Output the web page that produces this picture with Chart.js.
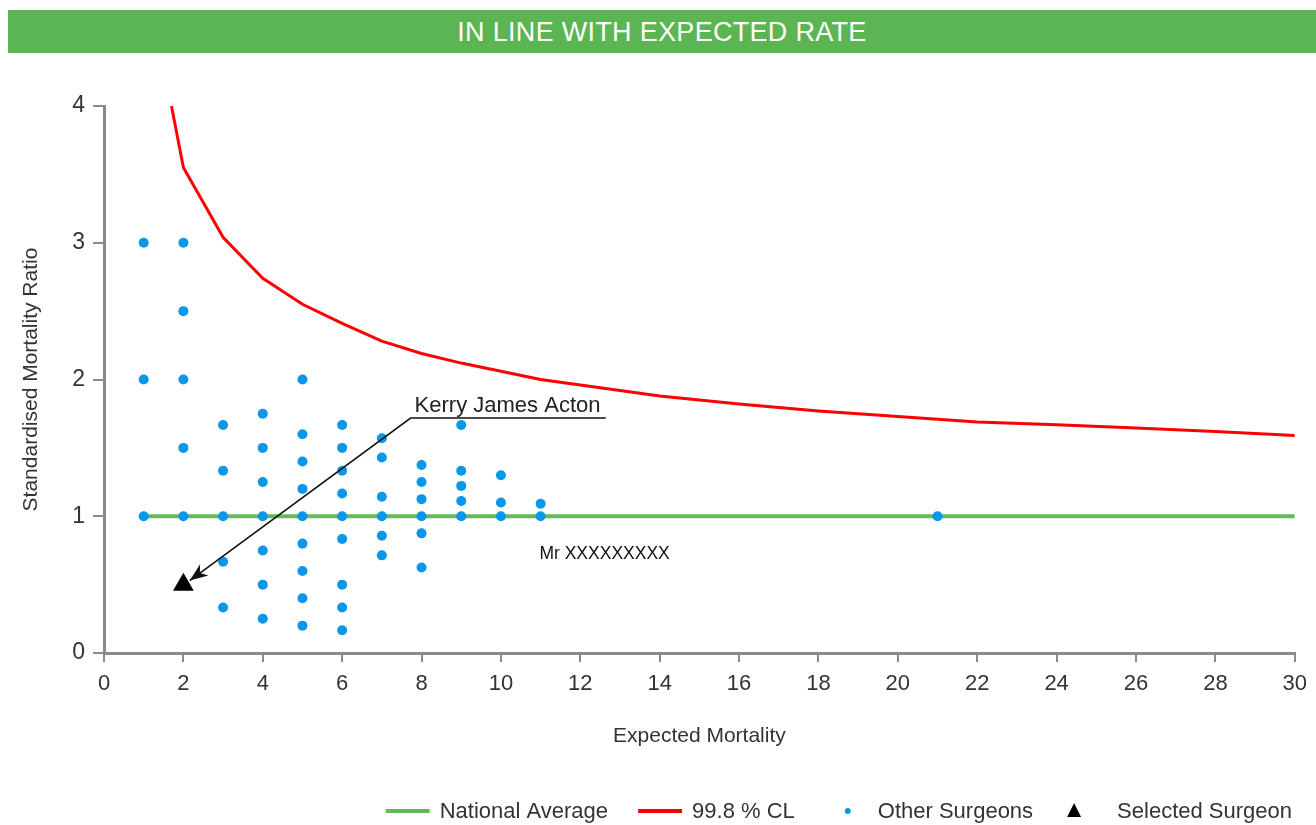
<!DOCTYPE html>
<html><head><meta charset="utf-8">
<script src="https://cdn.jsdelivr.net/npm/chart.js@4"></script>
<style>
html,body{margin:0;padding:0;background:#fff;width:1316px;height:825px;overflow:hidden}
#hdr{position:absolute;left:8px;top:10px;width:1308px;height:43px;background:#5bb553;color:#fff;font:27px "Liberation Sans",Arial,sans-serif;text-align:center;line-height:44px;z-index:2;letter-spacing:0.3px}
#wrap{position:absolute;left:0;top:0;width:1316px;height:825px}
</style></head><body>
<div id="hdr">IN LINE WITH EXPECTED RATE</div>
<div id="wrap"><canvas id="c" width="1316" height="825"></canvas></div>
<script>
// ---- data ----
const xTickStep = 2;
const xMin = 0, xMax = 30;
const yMin = 0, yMax = 4;

const nationalX = [1, 30];
const nationalY = [1, 1];

const clX = [1.7, 2, 3, 4, 5, 6, 7, 8, 9, 10, 11, 12, 13, 14, 16, 18, 20, 22, 24, 26, 28, 30];
const clY = [4.0, 3.55, 3.04, 2.74, 2.55, 2.41, 2.28, 2.19, 2.12, 2.06, 2.00, 1.96, 1.92, 1.88, 1.82, 1.77, 1.73, 1.69, 1.67, 1.645, 1.62, 1.59];

const otherX = [
  1,1,1,
  2,2,2,2,2,2,
  3,3,3,3,3,
  4,4,4,4,4,4,4,
  5,5,5,5,5,5,5,5,5,
  6,6,6,6,6,6,6,6,6,
  7,7,7,7,7,7,
  8,8,8,8,8,8,
  9,9,9,9,9,
  10,10,10,
  11,11,
  21
];
const otherY = [
  3,2,1,
  3,2.5,2,1.5,1,0.5,
  1.667,1.333,1,0.667,0.333,
  1.75,1.5,1.25,1,0.75,0.5,0.25,
  2,1.6,1.4,1.2,1,0.8,0.6,0.4,0.2,
  1.667,1.5,1.333,1.167,1,0.833,0.5,0.333,0.167,
  1.571,1.429,1.143,1,0.857,0.714,
  1.375,1.25,1.125,1,0.875,0.625,
  1.667,1.333,1.222,1.111,1,
  1.3,1.1,1,
  1.091,1,
  1
];

const selectedX = [2];
const selectedY = [0.5];

const seriesLabels = ['National Average', '99.8 % CL', 'Other Surgeons', 'Selected Surgeon'];
const xTitle = 'Expected Mortality';
const yTitle = 'Standardised Mortality Ratio';

const annName = 'Kerry James Acton';
const annElbow = {x: 7.725, y: 1.718};
const annLineEndX = 12.64;
const annTip = {x: 2.16, y: 0.53};
const noteText = 'Mr XXXXXXXXX';
const notePos = {x: 10.97, y: 0.72};

// ---- styles ----
const FONT = '"Liberation Sans", Arial, sans-serif';
const GREEN = '#64b958';
const RED = '#ff0000';
const BLUE = '#0a97ea';
const AXIS = '#8a8a8a';
const TXT = '#333333';

const zip = (xs, ys) => xs.map((x, i) => ({x, y: ys[i]}));

const annotationPlugin = {
  id: 'ann',
  afterDatasetsDraw(chart) {
    const ctx = chart.ctx, xs = chart.scales.x, ys = chart.scales.y;
    const ex = xs.getPixelForValue(annElbow.x), ey = ys.getPixelForValue(annElbow.y);
    const endX = xs.getPixelForValue(annLineEndX);
    const tx = xs.getPixelForValue(annTip.x), ty = ys.getPixelForValue(annTip.y);
    ctx.save();
    ctx.strokeStyle = '#111'; ctx.lineWidth = 1.6;
    ctx.beginPath(); ctx.moveTo(endX, ey); ctx.lineTo(ex, ey); ctx.lineTo(tx, ty); ctx.stroke();
    // arrow head
    const ang = Math.atan2(ty - ey, tx - ex);
    const L = 18, W = 7;
    ctx.fillStyle = '#111';
    ctx.beginPath();
    ctx.moveTo(tx, ty);
    ctx.lineTo(tx - L*Math.cos(ang) + W*Math.sin(ang), ty - L*Math.sin(ang) - W*Math.cos(ang));
    ctx.lineTo(tx - 0.7*L*Math.cos(ang), ty - 0.7*L*Math.sin(ang));
    ctx.lineTo(tx - L*Math.cos(ang) - W*Math.sin(ang), ty - L*Math.sin(ang) + W*Math.cos(ang));
    ctx.closePath(); ctx.fill();
    // name label
    ctx.font = '22px ' + FONT; ctx.fillStyle = '#222';
    ctx.textAlign = 'left'; ctx.textBaseline = 'alphabetic';
    ctx.fillText(annName, ex + 4, ey - 6);
    // note
    ctx.font = '17.5px ' + FONT; ctx.fillStyle = '#111';
    ctx.textBaseline = 'middle';
    ctx.fillText(noteText, xs.getPixelForValue(notePos.x), ys.getPixelForValue(notePos.y));
    ctx.restore();
  }
};

const legendPlugin = {
  id: 'customLegend',
  afterDraw(chart) {
    const ctx = chart.ctx;
    const ds = chart.data.datasets;
    const kinds = ['line', 'line', 'dot', 'tri'];
    const lead = {line: 54, dot: 30, tri: 43};
    const gapBefore = {line: 30, dot: 53, tri: 41};
    ctx.save();
    ctx.font = '22px ' + FONT;
    const items = seriesLabels.map((label, i) => ({label, kind: kinds[i], w: ctx.measureText(label).width, ds: ds.find(d => d.label === label)}));
    let total = 0;
    items.forEach((it, i) => { if (i) total += gapBefore[it.kind]; total += lead[it.kind] + it.w; });
    let x = 1292 - total;
    const y = 811;
    items.forEach((it, i) => {
      if (i) x += gapBefore[it.kind];
      if (it.kind === 'line') {
        ctx.strokeStyle = it.ds.borderColor; ctx.lineWidth = 4;
        ctx.beginPath(); ctx.moveTo(x, y); ctx.lineTo(x + 44, y); ctx.stroke();
      } else if (it.kind === 'dot') {
        ctx.fillStyle = it.ds.backgroundColor;
        ctx.beginPath(); ctx.arc(x, y, 3, 0, Math.PI*2); ctx.fill();
      } else {
        ctx.fillStyle = it.ds.backgroundColor;
        ctx.beginPath(); ctx.moveTo(x, y - 8); ctx.lineTo(x + 7, y + 6); ctx.lineTo(x - 7, y + 6); ctx.closePath(); ctx.fill();
      }
      x += lead[it.kind];
      ctx.fillStyle = TXT; ctx.textAlign = 'left'; ctx.textBaseline = 'middle';
      ctx.fillText(it.label, x, y + 1);
      x += it.w;
    });
    ctx.restore();
  }
};

new Chart(document.getElementById('c'), {
  type: 'scatter',
  data: {
    datasets: [
      {label: seriesLabels[3], data: zip(selectedX, selectedY), backgroundColor: '#000', borderColor: '#000',
       pointStyle: 'triangle', pointRadius: 12, pointBorderWidth: 0, showLine: false, order: 0},
      {label: seriesLabels[2], data: zip(otherX, otherY), backgroundColor: BLUE, borderColor: BLUE,
       pointStyle: 'circle', pointRadius: 5, pointBorderWidth: 0, showLine: false, order: 1},
      {label: seriesLabels[0], data: zip(nationalX, nationalY), borderColor: GREEN, backgroundColor: GREEN,
       showLine: true, borderWidth: 4, pointRadius: 0, order: 2},
      {label: seriesLabels[1], data: zip(clX, clY), borderColor: RED, backgroundColor: RED,
       showLine: true, borderWidth: 3, pointRadius: 0, tension: 0, order: 3}
    ]
  },
  options: {
    responsive: false,
    animation: false,
    events: [],
    layout: {padding: {top: 106, left: 0, right: 16, bottom: 0}},
    plugins: {legend: {display: false}, tooltip: {enabled: false}, title: {display: false}},
    scales: {
      x: {
        type: 'linear', min: xMin, max: xMax,
        ticks: {stepSize: xTickStep, color: TXT, font: {family: FONT, size: 22}, padding: 9, maxRotation: 0},
        grid: {drawOnChartArea: false, drawTicks: true, tickLength: 9, color: AXIS, lineWidth: 2},
        border: {display: true, color: AXIS, width: 3},
        title: {display: true, text: xTitle, color: TXT, font: {family: FONT, size: 21}, padding: {top: 0, bottom: 76}},
        afterFit(s) { s.height = 172; }
      },
      y: {
        type: 'linear', min: yMin, max: yMax,
        ticks: {stepSize: 1, color: TXT, font: {family: FONT, size: 23}, padding: 8},
        grid: {drawOnChartArea: false, drawTicks: true, tickLength: 11, color: AXIS, lineWidth: 2},
        border: {display: true, color: AXIS, width: 3},
        title: {display: true, text: yTitle, color: TXT, font: {family: FONT, size: 21}, padding: {top: 19, bottom: 0}},
        afterFit(s) { s.width = 104; }
      }
    }
  },
  plugins: [annotationPlugin, legendPlugin]
});
</script>
</body></html>
